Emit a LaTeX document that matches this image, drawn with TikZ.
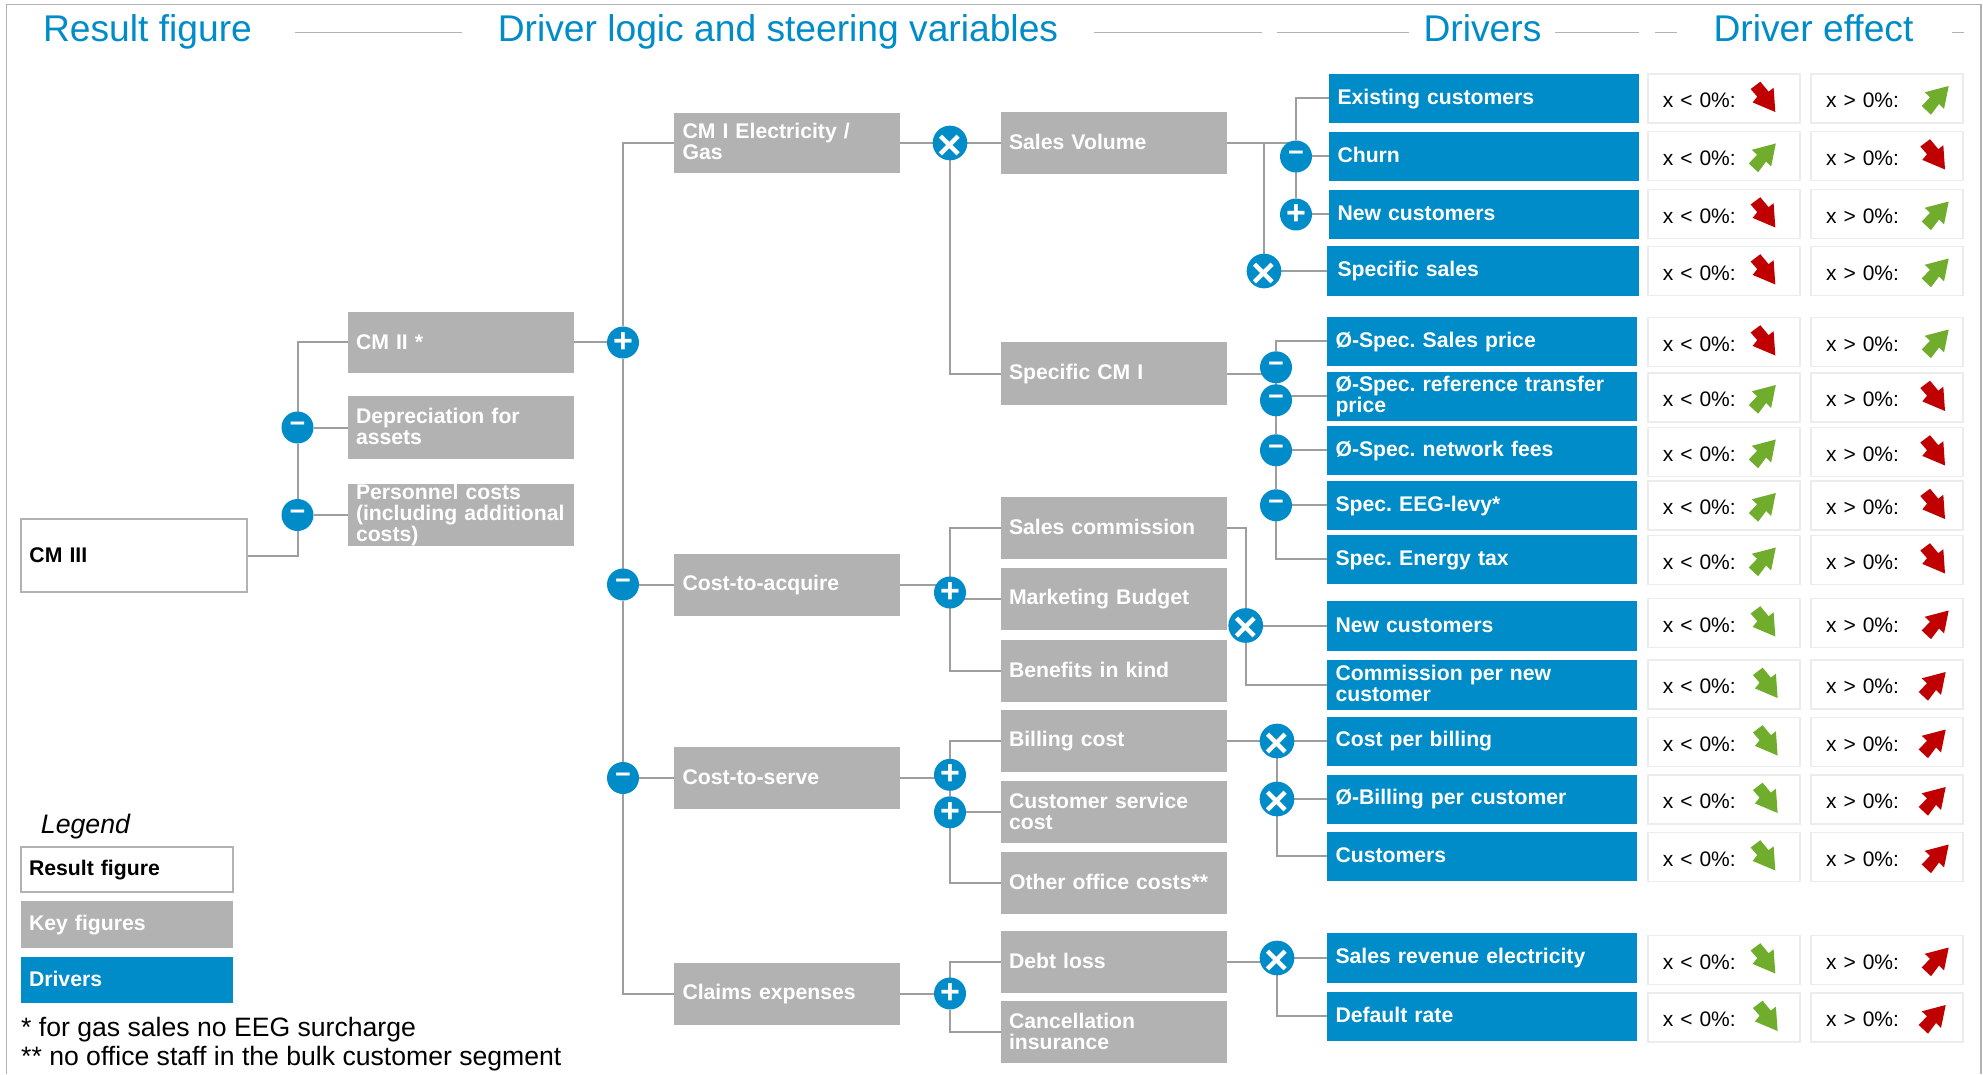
\documentclass[tikz,border=0pt]{standalone}
\usepackage{fontspec}
\setmainfont{Liberation Sans}
\usepackage{tikz}
\usetikzlibrary{backgrounds}
\definecolor{driverblue}{RGB}{0,139,201}
\definecolor{keygrey}{RGB}{178,178,178}
\definecolor{linegrey}{RGB}{158,158,158}
\definecolor{effectgrey}{RGB}{236,236,236}
\definecolor{arrowred}{RGB}{192,0,0}
\definecolor{arrowgreen}{RGB}{112,173,45}
\newcommand{\boxstrut}{\rule[-3pt]{0pt}{19pt}}
\newcommand{\timessign}{\raisebox{-4pt}[\height][\depth]{×}}
\newcommand{\effectarrow}[3]{\fill [shift={(#1)}, xshift=#2pt, #3];}
\tikzstyle{keybox} = [rectangle, fill=keygrey, text=white, font=\bfseries\fontsize{21.2}{21}\selectfont, text width=209pt, align=left, inner xsep=8.5pt, inner ysep=0pt, outer sep=0pt, minimum height=62pt, execute at begin node=\boxstrut, execute at end node=\boxstrut]
\tikzstyle{resultbox} = [keybox, fill=white, draw=keygrey, line width=2pt, text=black, minimum height=73pt]
\tikzstyle{driverbox} = [keybox, fill=driverblue, text width=293pt, minimum height=49pt]
\tikzstyle{effectbox} = [rectangle, draw=effectgrey, line width=1.5pt, fill=white, font=\fontsize{21}{21}\selectfont, text width=122pt, align=left, inner xsep=15pt, inner ysep=0pt, outer sep=0pt, minimum height=49pt, execute at begin node=\rule{0pt}{19pt}]
\tikzstyle{opnode} = [circle, fill=driverblue, text=white, minimum size=32pt, inner sep=0pt, outer sep=0pt]
\tikzstyle{plusop} = [opnode, font=\bfseries\fontsize{34}{34}\selectfont]
\tikzstyle{minusop} = [opnode, font=\bfseries\fontsize{27}{27}\selectfont]
\tikzstyle{timesop} = [opnode, font=\bfseries\fontsize{42}{42}\selectfont]
\tikzstyle{conn} = [linegrey, line width=2pt]
\tikzstyle{headtext} = [text=driverblue, font=\fontsize{37.2}{37}\selectfont, inner sep=0pt]
\tikzstyle{headrule} = [keygrey, line width=1.5pt]
\tikzstyle{notetext} = [font=\fontsize{26.6}{26.6}\selectfont, inner sep=0pt]
\tikzstyle{fallshape} = [insert path={(-12.7,7.7) -- (-3,15) -- (5.3,5) -- (10.3,9) -- (12,-15.3) -- (-10.7,-5.7) -- (-6,0) -- cycle}]
\tikzstyle{riseshape} = [insert path={(12,15.3) -- (-12,9) -- (-6.7,4) -- (-15,-4.7) -- (-5.7,-13.4) -- (2.3,-2.7) -- (7.3,-7.7) -- cycle}]
\tikzstyle{redfall} = [fill=arrowred, yshift=1.8pt, fallshape]
\tikzstyle{greenfall} = [fill=arrowgreen, yshift=1.8pt, fallshape]
\tikzstyle{redrise} = [fill=arrowred, yshift=-2.8pt, riseshape]
\tikzstyle{greenrise} = [fill=arrowgreen, yshift=-2.8pt, riseshape]
\begin{document}
\frenchspacing
\begin{tikzpicture}[x=1pt, y=1pt, node distance=58pt]
  \useasboundingbox (-134,555.5) rectangle (1849,-518.5);

  \node (cm3) [resultbox, text width=209pt] {CM III};
  \node (cm2) [keybox, node distance=326.5pt, right of=cm3, yshift=213pt, minimum height=61pt] {CM II *};
  \node (dep) [keybox, node distance=85pt, below of=cm2, minimum height=63pt] {Depreciation for\\assets};
  \node (pers) [keybox, node distance=87.5pt, below of=dep] {Personnel costs\\\mbox{(including additional}\\costs)};

  \node (cm1) [keybox, node distance=326.5pt, right of=cm2, yshift=199.5pt, minimum height=60pt] {CM I Electricity /\\Gas};
  \node (acq) [keybox, node distance=441.5pt, below of=cm1] {Cost-to-acquire};
  \node (serve) [keybox, node distance=193.5pt, below of=acq] {Cost-to-serve};
  \node (claims) [keybox, node distance=215.5pt, below of=serve] {Claims expenses};

  \node (salesvol) [keybox, node distance=326.5pt, right of=cm1] {Sales Volume};
  \node (specific) [keybox, node distance=230.5pt, below of=salesvol] {Specific CM I};
  \node (comm) [keybox, node distance=154.5pt, below of=specific] {Sales commission};
  \node (mark) [keybox, node distance=71pt, below of=comm] {Marketing Budget};
  \node (benefits) [keybox, node distance=71.5pt, below of=mark] {Benefits in kind};
  \node (billing) [keybox, node distance=70.5pt, below of=benefits] {Billing cost};
  \node (custserv) [keybox, node distance=71.3pt, below of=billing] {Customer service\\cost};
  \node (other) [keybox, node distance=70.2pt, below of=custserv] {Other office costs**};
  \node (debt) [keybox, node distance=79.5pt, below of=other] {Debt loss};
  \node (cancel) [keybox, node distance=70pt, below of=debt] {Cancellation\\insurance};

  \node (existing) [driverbox, node distance=370.5pt, right of=salesvol, yshift=44.5pt] {Existing customers};
  \node (churn) [driverbox, below of=existing] {Churn};
  \node (newcu) [driverbox, below of=churn] {New customers};
  \node (specsales) [driverbox, node distance=56.5pt, below of=newcu, xshift=-1pt, minimum height=50pt, text width=295pt] {\hspace*{2pt}Specific sales};
  \node (sprice) [driverbox, node distance=70.3pt, below of=specsales, xshift=-1pt] {Ø-Spec. Sales price};
  \node (reftrans) [driverbox, node distance=55pt, below of=sprice] {Ø-Spec. reference transfer\\price};
  \node (netfee) [driverbox, node distance=54pt, below of=reftrans] {Ø-Spec. network fees};
  \node (eeg) [driverbox, node distance=55pt, below of=netfee] {Spec. EEG-levy*};
  \node (entax) [driverbox, node distance=54pt, below of=eeg] {Spec. Energy tax};
  \node (newcb) [driverbox, node distance=66.2pt, below of=entax, minimum height=50pt] {New customers};
  \node (commis) [driverbox, node distance=59pt, below of=newcb, minimum height=50pt] {Commission per new\\customer};
  \node (costb) [driverbox, node distance=56.5pt, below of=commis] {Cost per billing};
  \node (billc) [driverbox, below of=costb] {Ø-Billing per customer};
  \node (custm) [driverbox, node distance=57pt, below of=billc] {Customers};
  \node (salesrev) [driverbox, node distance=102pt, below of=custm, minimum height=50pt] {Sales revenue electricity};
  \node (defrate) [driverbox, below of=salesrev] {Default rate};

  \coordinate (lo0) at ([xshift=239.8pt, yshift=57.5pt]existing.center);
  \foreach \row/\prev/\gap/\lostyle/\histyle/\lox/\hix in {
    1/0/57.5/redfall/greenrise/39.5/49.7,
    2/1/57.5/greenrise/redfall/40/46,
    3/2/58/redfall/greenrise/39.5/49.7,
    4/3/57/redfall/greenrise/39.5/49.7,
    5/4/71/redfall/greenrise/39.5/49.7,
    6/5/55.5/greenrise/redfall/40/46,
    7/6/54.5/greenrise/redfall/40/46,
    8/7/53.5/greenrise/redfall/40/46,
    9/8/54.5/greenrise/redfall/40/46,
    10/9/63/greenfall/redrise/39.5/49.7,
    11/10/61.5/greenfall/redrise/41.8/46.7,
    12/11/57.5/greenfall/redrise/41.8/46.7,
    13/12/57.5/greenfall/redrise/41.8/46.7,
    14/13/57.5/greenfall/redrise/39.5/49.7,
    15/14/103/greenfall/redrise/39.5/49.7,
    16/15/57.5/greenfall/redrise/41.8/46.7} {
    \node (lo\row) [effectbox, node distance=\gap pt, below of=lo\prev] {x < 0\%:};
    \node (hi\row) [effectbox, node distance=163.2pt, right of=lo\row] {x > 0\%:};
    \effectarrow{lo\row.center}{\lox}{\lostyle}
    \effectarrow{hi\row.center}{\hix}{\histyle}
  }

  \node (minusa) [minusop, node distance=163pt, left of=dep] {−};
  \node (minusb) [minusop, node distance=163pt, left of=pers] {−};
  \node (plusa) [plusop, node distance=162.5pt, right of=cm2] {+};
  \node (minusc) [minusop, node distance=164pt, left of=acq] {−};
  \node (minusd) [minusop, node distance=164pt, left of=serve] {−};
  \node (timesa) [timesop, node distance=163pt, right of=cm1] {\timessign};
  \node (plusb) [plusop, node distance=163pt, right of=acq, yshift=-8pt] {+};
  \node (plusc) [plusop, node distance=163pt, right of=serve, yshift=3.2pt] {+};
  \node (plusd) [plusop, node distance=163.5pt, left of=custserv] {+};
  \node (pluse) [plusop, node distance=163pt, right of=claims] {+};
  \node (minuse) [minusop, node distance=188pt, left of=churn] {−};
  \node (plusf) [plusop, node distance=188pt, left of=newcu] {+};
  \node (timesb) [timesop, node distance=219pt, left of=specsales] {\timessign};
  \node (minusf) [minusop, node distance=162.5pt, right of=specific, yshift=6.2pt] {−};
  \node (minusg) [minusop, node distance=206pt, left of=reftrans, yshift=-4pt] {−};
  \node (minush) [minusop, node distance=206pt, left of=netfee] {−};
  \node (minusi) [minusop, node distance=206pt, left of=eeg] {−};
  \node (timesc) [timesop, node distance=236.3pt, left of=newcb] {\timessign};
  \node (timesd) [timesop, node distance=205pt, left of=costb] {\timessign};
  \node (timese) [timesop, node distance=205pt, left of=billc] {\timessign};
  \node (timesf) [timesop, node distance=205pt, left of=salesrev] {\timessign};

  \node (headres) [headtext, node distance=513.7pt, above of=cm3, xshift=13.5pt, anchor=base] {Result figure};
  \coordinate (headbase) at (headres.base);
  \node (headlogic) [headtext, node distance=630.5pt, right of=headbase, anchor=base] {Driver logic and steering variables};
  \node (headdrv) [headtext, node distance=1335pt, right of=headbase, anchor=base] {Drivers};
  \node (headeff) [headtext, node distance=1666pt, right of=headbase, anchor=base] {Driver effect};

  \node (legres) [resultbox, node distance=314pt, below of=cm3, xshift=-7.2pt, text width=195.5pt, minimum height=45pt] {Result figure};
  \node (legkey) [keybox, node distance=55pt, below of=legres, text width=195.5pt, minimum height=47pt] {Key figures};
  \node (legdrv) [driverbox, node distance=55.5pt, below of=legkey, text width=195.5pt, minimum height=46pt] {Drivers};
  \node (legtitle) [node distance=36.5pt, above of=legres, xshift=-41.3pt, anchor=base, inner sep=0pt, font=\itshape\fontsize{26.7}{26.7}\selectfont] {Legend};
  \node (notea) [notetext, node distance=56.7pt, below of=legdrv, xshift=-105.8pt, anchor=base west] {* for gas sales no EEG surcharge};
  \coordinate (notebase) at (notea.base west);
  \node (noteb) [notetext, node distance=29pt, below of=notebase, anchor=base west] {** no office staff in the bulk customer segment};

  \begin{pgfonlayer}{background}
    \draw [keygrey, line width=1.2pt] (-127.6,-518.5) |- (1847,551) -- (1847,-518.5);
    \foreach \from/\to in {160.5/328, 960/1128, 1142.6/1274.5, 1421/1505, 1521/1542.6, 1818/1830}
      \draw [headrule] (\from,523.2) -- (\to,523.2);

    \draw [conn] (cm3.east) -| (minusb);
    \draw [conn] (minusb) -- (minusa);
    \draw [conn] (minusa) |- (cm2);
    \draw [conn] (minusa) -- (dep);
    \draw [conn] (minusb) -- (pers);
    \draw [conn] (cm2) -- (plusa);
    \draw [conn] (plusa) |- (cm1);
    \draw [conn] (plusa) -- (minusc);
    \draw [conn] (minusc) -- (minusd);
    \draw [conn] (minusd) |- (claims);
    \draw [conn] (minusc) -- (acq);
    \draw [conn] (minusd) -- (serve);

    \draw [conn] (cm1) -- (timesa);
    \draw [conn] (timesa) -- (salesvol);
    \draw [conn] (timesa) |- (specific);
    \draw [conn] (acq) -- (acq -| plusb);
    \draw [conn] (plusb) |- (comm);
    \draw [conn] (plusb) |- (mark);
    \draw [conn] (plusb) |- (benefits);
    \draw [conn] (serve) -- (serve -| plusc);
    \draw [conn] (plusc) |- (billing);
    \draw [conn] (plusc) -- (plusd);
    \draw [conn] (plusd) -- (custserv);
    \draw [conn] (plusd) |- (other);
    \draw [conn] (claims) -- (pluse);
    \draw [conn] (pluse) |- (debt);
    \draw [conn] (pluse) |- (cancel);

    \draw [conn] (salesvol) -- (salesvol -| minuse);
    \draw [conn] (minuse) |- (existing);
    \draw [conn] (minuse) -- (churn);
    \draw [conn] (minuse) -- (plusf);
    \draw [conn] (plusf) -- (newcu);
    \draw [conn] (salesvol -| timesb) -- (timesb);
    \draw [conn] (timesb) -- (specsales);

    \draw [conn] (specific) -- (specific -| minusf);
    \draw [conn] (minusf) |- (sprice);
    \draw [conn] (minusf) -- (minusg);
    \draw [conn] (minusg) |- (reftrans);
    \draw [conn] (minusg) -- (minush);
    \draw [conn] (minush) -- (netfee);
    \draw [conn] (minush) -- (minusi);
    \draw [conn] (minusi) -- (eeg);
    \draw [conn] (minusi) |- (entax);

    \draw [conn] (comm) -| (timesc);
    \draw [conn] (timesc) -- (newcb);
    \draw [conn] (timesc) |- (commis);
    \draw [conn] (billing) -- (billing -| timesd);
    \draw [conn] (timesd) -- (costb);
    \draw [conn] (timesd) -- (timese);
    \draw [conn] (timese) -- (billc);
    \draw [conn] (timese) |- (custm);
    \draw [conn] (debt) -- (debt -| timesf);
    \draw [conn] (timesf) -- (salesrev);
    \draw [conn] (timesf) |- (defrate);
  \end{pgfonlayer}
\end{tikzpicture}
\end{document}
